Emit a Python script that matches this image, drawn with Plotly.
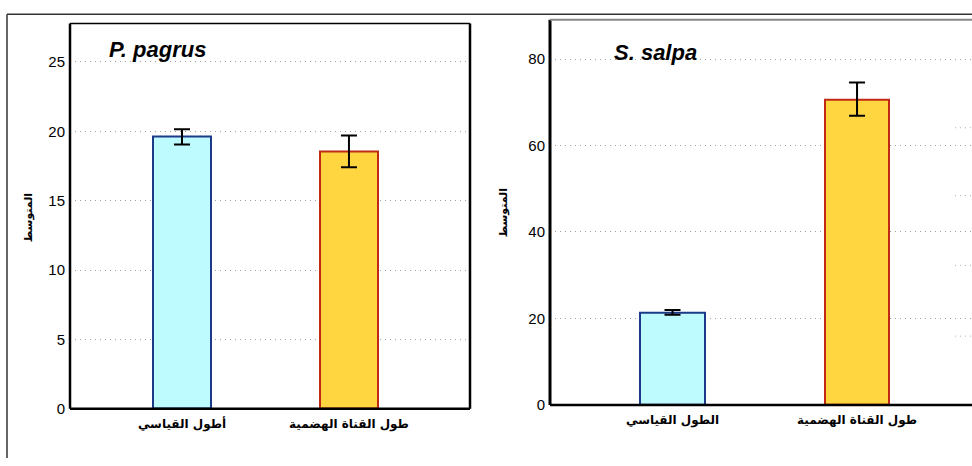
import plotly.graph_objects as go

# ---- data ----
pagrus_labels = ["أطول القياسي", "طول القناة الهضمية"]
pagrus_means = [19.6, 18.55]
pagrus_err = [0.55, 1.15]

salpa_labels = ["الطول القياسي", "طول القناة الهضمية"]
salpa_means = [21.4, 70.7]
salpa_err = [0.55, 3.85]

pagrus_ticks = [0, 5, 10, 15, 20, 25]
salpa_ticks = [0, 20, 40, 60, 80]

y_title = "المتوسط"

W, H = 972, 466
fill_colors = ["#bdfbff", "#ffd640"]
edge_colors = ["#1d3a8a", "#c02a14"]

AR_FONT = "DejaVu Sans"
NUM_FONT = "Liberation Sans, Arial, sans-serif"


def px(x):
    return x / W


def py(y):
    return 1 - y / H


fig = go.Figure()

fig.add_trace(go.Bar(
    x=pagrus_labels, y=pagrus_means, width=0.35,
    marker=dict(color=fill_colors, line=dict(color=edge_colors, width=2)),
    error_y=dict(type="data", array=pagrus_err, color="black", thickness=2, width=8),
    xaxis="x", yaxis="y", showlegend=False,
))
fig.add_trace(go.Bar(
    x=salpa_labels, y=salpa_means, width=0.35,
    marker=dict(color=fill_colors, line=dict(color=edge_colors, width=2)),
    error_y=dict(type="data", array=salpa_err, color="black", thickness=2, width=8),
    xaxis="x2", yaxis="y2", showlegend=False,
))

common_y = dict(
    showgrid=True, gridcolor="#a0a0a0", griddash="1px,4px", gridwidth=1,
    zeroline=False, showline=False, ticks="",
    tickfont=dict(family=NUM_FONT, size=15, color="black"),
    ticklabelstandoff=4,
)
common_x = dict(
    showgrid=False, zeroline=False, showline=False, ticks="",
    tickfont=dict(family=AR_FONT, size=12, color="black", weight="bold"),
    ticklabelstandoff=6,
)

fig.update_layout(
    width=W, height=H,
    margin=dict(l=0, r=0, t=0, b=0),
    paper_bgcolor="white", plot_bgcolor="white",
    bargap=0,
    xaxis=dict(domain=[px(70), px(470)], range=[-0.671, 1.725], anchor="y", **common_x),
    yaxis=dict(domain=[py(416), py(24)], range=[0, 27.76], tickvals=pagrus_ticks, anchor="x", **common_y),
    xaxis2=dict(domain=[px(550), 1.0], range=[-0.664, 1.623], anchor="y2", **common_x),
    yaxis2=dict(domain=[py(412), py(20)], range=[0, 89.1], tickvals=salpa_ticks, anchor="x2", **common_y),
)

shapes = []
# outer frame around the figure
shapes.append(dict(type="line", xref="paper", yref="paper", x0=px(7), x1=1, y0=py(14.5), y1=py(14.5),
                   line=dict(color="#333333", width=1.5)))
shapes.append(dict(type="line", xref="paper", yref="paper", x0=px(7), x1=px(7), y0=0, y1=py(14.5),
                   line=dict(color="#333333", width=1.5)))

# left panel frame
for (x0, y0, x1, y1, w) in [(0, 0, 1, 0, 2.5), (0, 0, 0, 1, 2.5), (0, 1, 1, 1, 1.5), (1, 0, 1, 1, 2.5)]:
    shapes.append(dict(type="line", xref="x domain", yref="y domain", x0=x0, y0=y0, x1=x1, y1=y1,
                       line=dict(color="black", width=w)))

# right panel frame
shapes.append(dict(type="line", xref="x2 domain", yref="y2 domain", x0=0, y0=0, x1=1, y1=0,
                   line=dict(color="black", width=2.5)))
shapes.append(dict(type="line", xref="x2 domain", yref="y2 domain", x0=0, y0=0, x1=0, y1=1,
                   line=dict(color="black", width=3)))
shapes.append(dict(type="line", xref="x2 domain", yref="y2 domain", x0=0, y0=1, x1=1, y1=1,
                   line=dict(color="#888888", width=2)))

# faint dotted fragments along the right edge
for yy in [130, 199, 270, 342]:
    shapes.append(dict(type="line", xref="paper", yref="paper", x0=px(955), x1=1, y0=py(yy), y1=py(yy),
                       line=dict(color="#b0b0b0", width=1, dash="1px,4px")))

fig.update_layout(shapes=shapes)

annotations = [
    dict(text="<b><i>P. pagrus</i></b>", x=px(107), y=py(50), xref="paper", yref="paper",
         xanchor="left", yanchor="middle", showarrow=False,
         font=dict(family=NUM_FONT, size=22, color="black")),
    dict(text="<b><i>S. salpa</i></b>", x=px(612), y=py(53), xref="paper", yref="paper",
         xanchor="left", yanchor="middle", showarrow=False,
         font=dict(family=NUM_FONT, size=22, color="black")),
    dict(text=y_title, x=px(28), y=py(222), xref="paper", yref="paper", textangle=-90,
         xanchor="center", yanchor="middle", showarrow=False,
         font=dict(family=AR_FONT, size=11, color="black", weight="bold")),
    dict(text=y_title, x=px(503), y=py(217), xref="paper", yref="paper", textangle=-90,
         xanchor="center", yanchor="middle", showarrow=False,
         font=dict(family=AR_FONT, size=11, color="black", weight="bold")),
]
fig.update_layout(annotations=annotations)

fig.write_html("out.html")
